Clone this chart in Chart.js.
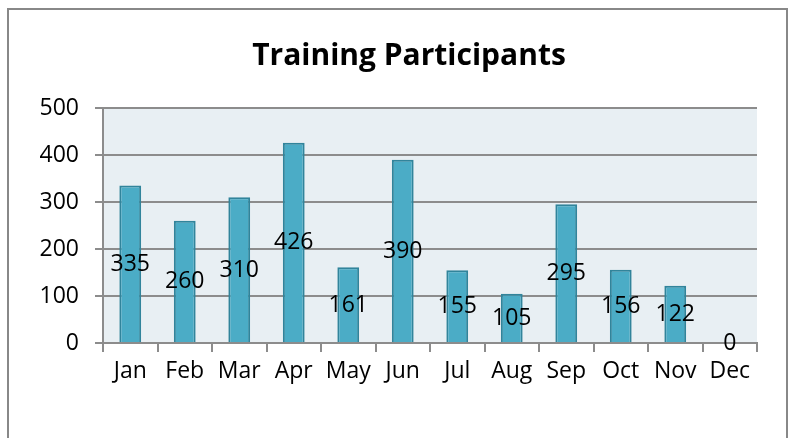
<!DOCTYPE html>
<html>
<head>
<meta charset="utf-8">
<script src="https://cdn.jsdelivr.net/npm/chart.js@4"></script>
<style>
  html, body { margin: 0; padding: 0; background: #fff; }
  #box { width: 795px; height: 438px; }
</style>
</head>
<body>
<div id="box"><canvas id="grafico"></canvas></div>
<script>
// dados do gráfico
var meses = ['Jan', 'Feb', 'Mar', 'Apr', 'May', 'Jun', 'Jul', 'Aug', 'Sep', 'Oct', 'Nov', 'Dec'];
var participantes = [335, 260, 310, 426, 161, 390, 155, 105, 295, 156, 122, 0];
var titulo = 'Training Participants';
var eixoY = { min: 0, max: 500, passo: 100 };

var fonte = '"Open Sans", "Noto Sans", sans-serif';

// moldura, fundo da área de plotagem e título
var fundoPlugin = {
    id: 'fundo',
    beforeDraw: function (chart) {
        var ctx = chart.ctx;
        var a = chart.chartArea;
        ctx.save();
        ctx.fillStyle = '#ffffff';
        ctx.fillRect(0, 0, chart.width, chart.height);
        ctx.strokeStyle = '#888888';
        ctx.lineWidth = 2;
        ctx.strokeRect(8, 9, 779, 460);
        ctx.fillStyle = '#e8eff3';
        ctx.fillRect(a.left, a.top, a.right - a.left, a.bottom - a.top);
        ctx.fillStyle = '#000';
        ctx.font = 'bold 30px ' + fonte;
        ctx.textAlign = 'center';
        ctx.textBaseline = 'alphabetic';
        ctx.fillText(titulo, 409, 65);
        ctx.restore();
    }
};

// rótulos no meio das barras
var rotulosPlugin = {
    id: 'rotulos',
    afterDatasetsDraw: function (chart) {
        var ctx = chart.ctx;
        var meta = chart.getDatasetMeta(0);
        var y = chart.scales.y;
        ctx.save();
        ctx.fillStyle = '#000';
        ctx.font = '23px ' + fonte;
        ctx.textAlign = 'center';
        ctx.textBaseline = 'middle';
        meta.data.forEach(function (bar, i) {
            var v = participantes[i];
            var meio = y.getPixelForValue(v / 2);
            ctx.fillText(String(v), bar.x, meio);
        });
        ctx.restore();
    }
};

var ctx = document.getElementById('grafico').getContext('2d');
new Chart(ctx, {
    type: 'bar',
    data: {
        labels: meses,
        datasets: [{
            data: participantes,
            backgroundColor: '#4bacc6',
            borderColor: '#31849b',
            borderWidth: 2,
            borderSkipped: 'bottom',
            barPercentage: 0.4,
            categoryPercentage: 1
        }]
    },
    options: {
        responsive: true,
        maintainAspectRatio: false,
        animation: false,
        devicePixelRatio: 1,
        layout: { padding: { top: 108, left: 8, right: 38, bottom: 0 } },
        plugins: {
            legend: { display: false },
            title: { display: false },
            tooltip: { enabled: false }
        },
        scales: {
            x: {
                offset: true,
                afterFit: function (s) { s.height = 95; },
                grid: { drawOnChartArea: false, drawTicks: true, tickLength: 9, color: '#8c8c8c', lineWidth: 2, offset: true },
                border: { display: true, color: '#8c8c8c', width: 2 },
                ticks: { color: '#000', font: { family: fonte, size: 23 }, padding: 6, maxRotation: 0 }
            },
            y: {
                min: eixoY.min,
                max: eixoY.max,
                afterFit: function (s) { s.width = 95; },
                grid: { color: '#8c8c8c', lineWidth: 2, tickLength: 8 },
                border: { display: true, color: '#8c8c8c', width: 2 },
                ticks: { stepSize: eixoY.passo, color: '#000', font: { family: fonte, size: 23 }, padding: 16 }
            }
        }
    },
    plugins: [fundoPlugin, rotulosPlugin]
});
</script>
</body>
</html>
